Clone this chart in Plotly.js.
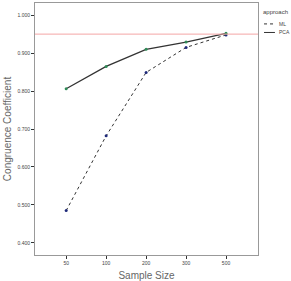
<!DOCTYPE html>
<html><head><meta charset="utf-8">
<script src="https://cdn.plot.ly/plotly-3.0.1.min.js"></script>
<style>html,body{margin:0;padding:0;background:#fff;}#c{width:291px;height:281px;}</style>
</head><body><div id="c"></div>
<script>
const sampleSizes = ['50','100','200','300','500'];
const mlValues = [0.485, 0.682, 0.849, 0.915, 0.948];
const pcaValues = [0.806, 0.865, 0.910, 0.929, 0.952];
const seriesNames = ['ML', 'PCA'];
const legendTitle = 'approach';
const referenceLine = 0.95;

const dashes = ['dot', 'solid'];
const traces = [
  {x: sampleSizes, y: mlValues, name: seriesNames[0], type: 'scatter', mode: 'lines+markers',
   line: {color: '#333333', width: 1, dash: dashes[0]}, marker: {color: '#1f2a7a', size: 3}},
  {x: sampleSizes, y: pcaValues, name: seriesNames[1], type: 'scatter', mode: 'lines+markers',
   line: {color: '#333333', width: 1.3, dash: dashes[1]}, marker: {color: '#2e8b57', size: 3}}
];

// custom compact legend (outside right of the plot area)
const legendRowsY = [0.917, 0.883];
const legendShapes = seriesNames.map((n, i) => ({
  type: 'line', xref: 'paper', yref: 'paper', x0: 1.027, x1: 1.076, y0: legendRowsY[i], y1: legendRowsY[i],
  line: {color: '#333', width: 1, dash: dashes[i]}
}));
const legendAnn = seriesNames.map((n, i) => ({
  text: n, xref: 'paper', yref: 'paper', x: 1.083, y: legendRowsY[i], xanchor: 'left', yanchor: 'middle',
  showarrow: false, font: {size: 5, color: '#444'}
}));
legendAnn.push({text: legendTitle, xref: 'paper', yref: 'paper', x: 1.014, y: 0.966,
  xanchor: 'left', yanchor: 'middle', showarrow: false, font: {size: 6, color: '#444'}});

const layout = {
  width: 291, height: 281,
  margin: {l: 35, r: 33, t: 3, b: 26, autoexpand: false},
  paper_bgcolor: '#fff', plot_bgcolor: '#fff',
  font: {family: 'Liberation Sans, Arial', color: '#444'},
  showlegend: false,
  xaxis: {type: 'category', range: [-0.78, 4.8], showgrid: false, zeroline: false,
    showline: true, linecolor: '#999', linewidth: 1, mirror: true,
    ticks: 'outside', ticklen: 3, tickcolor: '#333', tickfont: {size: 5, color: '#444'},
    title: {text: 'Sample Size', font: {size: 10, color: '#666'}, standoff: 8}},
  yaxis: {range: [0.368, 1.032], showgrid: false, zeroline: false,
    showline: true, linecolor: '#999', linewidth: 1, mirror: true,
    tickvals: [0.4,0.5,0.6,0.7,0.8,0.9,1.0], tickformat: '.3f',
    ticks: 'outside', ticklen: 3, tickcolor: '#333', tickfont: {size: 5, color: '#444'},
    title: {text: 'Congruence Coefficient', font: {size: 10, color: '#666'}, standoff: 3}},
  shapes: [{type: 'line', xref: 'paper', x0: 0, x1: 1, yref: 'y', y0: referenceLine, y1: referenceLine,
    line: {color: '#f4a6a6', width: 1}}].concat(legendShapes),
  annotations: legendAnn
};
Plotly.newPlot('c', traces, layout, {displayModeBar: false, staticPlot: true});
</script></body></html>
